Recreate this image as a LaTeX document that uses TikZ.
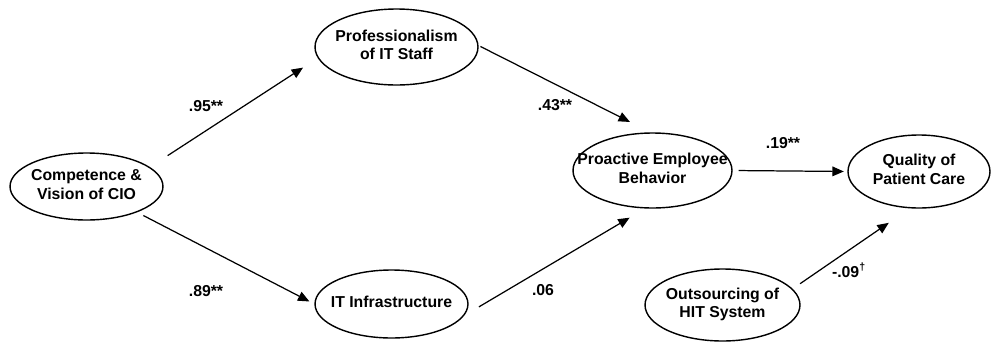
\documentclass[tikz,border=0pt]{standalone}
\usepackage{fontspec}
\setmainfont{Liberation Sans}
\usetikzlibrary{shapes.geometric,arrows.meta}
\newcommand{\ovaltext}[1]{\makebox[0pt]{\begin{tabular}{@{}c@{}}#1\end{tabular}}}
\begin{document}
\begin{tikzpicture}[x=0.02cm,y=-0.02cm,
  every node/.style={font=\fontsize{9}{10.5}\selectfont\bfseries},
  latent/.style={ellipse,draw,line width=0.8pt,inner sep=0pt},
  link/.style={line width=0.7pt,-{Triangle[length=6.5pt,width=5.5pt]}},
  coef/.style={inner sep=1pt}]
\useasboundingbox (0,0) rectangle (992,342);
\node[latent,minimum width=3.06cm,minimum height=1.34cm] (comp) at (86.5,186.5) {\ovaltext{Competence \&\\Vision of CIO}};
\node[latent,minimum width=3.26cm,minimum height=1.52cm] (prof) at (396.5,47) {\ovaltext{Professionalism\\of IT Staff}};
\node[latent,minimum width=3.06cm,minimum height=1.36cm] (infra) at (391.5,304) {\ovaltext{IT Infrastructure}};
\node[latent,minimum width=3.18cm,minimum height=1.5cm] (proact) at (652.5,170.5) {\ovaltext{Proactive Employee\\Behavior}};
\node[latent,minimum width=2.84cm,minimum height=1.46cm] (care) at (919,171.5) {\ovaltext{Quality of\\Patient Care}};
\node[latent,minimum width=3.1cm,minimum height=1.44cm] (outs) at (722.5,305) {\ovaltext{Outsourcing of\\HIT System}};
\draw[link,shorten <=0.42cm,shorten >=0.35cm] (comp.17) -- (prof.188);
\draw[link,shorten <=0.14cm,shorten >=0.11cm] (comp.333) -- (infra.180);
\draw[link,shorten <=0.04cm,shorten >=0.46cm] (prof.1) -- (proact.93);
\draw[link,shorten <=0.34cm,shorten >=0.36cm] (infra.351) -- (proact.259);
\draw[link,shorten <=0.12cm,shorten >=0.07cm] (proact.0) -- (care.180);
\draw[link,shorten <=0.18cm,shorten >=0.51cm] (outs.13) -- (care.256);
\node[coef] (c95) at (206,106) {.95**};
\node[coef] (c89) at (206,291) {.89**};
\node[coef] (c43) at (555,105) {.43**};
\node[coef] (c06) at (543,290) {.06};
\node[coef] (c19) at (783,143) {.19**};
\node[coef] (c09) at (849,270) {-.09\textsuperscript{†}};
\end{tikzpicture}
\end{document}
